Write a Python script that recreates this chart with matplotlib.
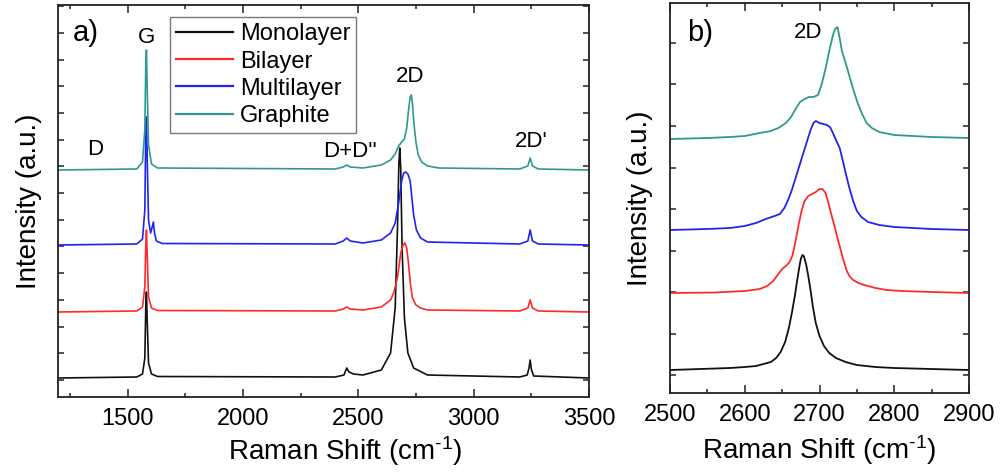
import numpy as np
import matplotlib
matplotlib.use("Agg")
import matplotlib.pyplot as plt
from matplotlib.ticker import MultipleLocator, FixedLocator

plt.rcParams['font.family'] = ['Liberation Sans', 'DejaVu Sans']
plt.rcParams['mathtext.fontset'] = 'custom'
plt.rcParams['mathtext.rm'] = 'Liberation Sans'
plt.rcParams['mathtext.it'] = 'Liberation Sans'

# ---------------- data ----------------
series_names = ["Monolayer", "Bilayer", "Multilayer", "Graphite"]
series_colors = ["#111111", "#ff2a2a", "#2323ee", "#2f9990"]

# Panel a) full spectra: intensity above each curve's baseline
a_mono_x = [1200, 1540, 1565, 1575, 1579, 1582, 1585, 1591, 1604, 1630, 2400, 2438, 2450, 2460, 2480,
            2520, 2600, 2640, 2660, 2670, 2676, 2680, 2684, 2690, 2700, 2715, 2740, 2800, 3200, 3232,
            3240, 3245, 3250, 3260, 3500]
a_mono_y = [0, 1, 4, 20, 70, 86, 60, 15, 4, 1.5, 1, 3, 10, 6, 4,
            3, 8, 25, 70, 150, 215, 230, 210, 130, 60, 25, 10, 3, 1, 3,
            10, 18, 9, 2, 0]

a_bi_x = [1200, 1540, 1565, 1575, 1579, 1582, 1585, 1591, 1604, 1630, 2400, 2435, 2450, 2465, 2520,
          2600, 2640, 2655, 2670, 2685, 2695, 2702, 2710, 2718, 2726, 2735, 2750, 2770, 2800, 3200,
          3235, 3245, 3255, 3280, 3500]
a_bi_y = [0, 1, 5, 25, 65, 82, 60, 15, 4, 1.5, 1, 3, 5, 3, 2,
          5, 12, 20, 35, 60, 67, 69, 64, 48, 28, 14, 7, 4, 2, 1,
          4, 12, 4, 1, 0]

a_multi_x = [1200, 1540, 1565, 1575, 1579, 1582, 1585, 1591, 1600, 1607, 1612, 1617, 1625, 1650, 2400,
             2435, 2450, 2465, 2520, 2600, 2640, 2660, 2675, 2688, 2697, 2705, 2715, 2725, 2732, 2740,
             2752, 2770, 2800, 3200, 3235, 3245, 3255, 3280, 3500]
a_multi_y = [0, 1, 6, 35, 110, 128, 90, 25, 12, 18, 23, 12, 4, 1.5, 1,
             4, 7, 4, 2, 5, 12, 22, 42, 64, 72, 73, 71, 64, 48, 30,
             15, 7, 3, 1, 4, 15, 4, 1, 0]

a_graph_x = [1200, 1540, 1565, 1575, 1579, 1582, 1585, 1591, 1604, 1630, 2400, 2435, 2450, 2465, 2520,
             2600, 2640, 2660, 2675, 2688, 2700, 2710, 2718, 2725, 2730, 2735, 2742, 2750, 2760, 2775,
             2800, 2850, 3200, 3235, 3245, 3255, 3280, 3500]
a_graph_y = [0, 1, 8, 40, 105, 120, 85, 25, 6, 2, 1, 3, 5, 3, 2,
             5, 10, 16, 24, 28, 31, 42, 60, 73, 75, 66, 45, 28, 15, 8,
             4, 2, 1, 4, 12, 4, 1, 0]

a_offsets = [19, 85, 152, 227]

# Panel b) 2D band zoom
b_mono_x = [2500, 2540, 2580, 2600, 2615, 2625, 2635, 2642, 2648, 2654, 2659, 2663, 2667, 2670, 2673,
            2675, 2677, 2679, 2682, 2685, 2688, 2691, 2695, 2700, 2706, 2713, 2722, 2735, 2750, 2775,
            2800, 2850, 2900]
b_mono_y = [0, 1, 2, 3, 4, 6, 8, 12, 18, 28, 42, 57, 74, 89, 103,
            111, 115, 114, 106, 94, 80, 64, 47, 34, 24, 17, 12, 8, 5, 3,
            2, 1, 0]

b_bi_x = [2500, 2560, 2600, 2620, 2630, 2638, 2645, 2650, 2655, 2660, 2664, 2668, 2672, 2676, 2680,
          2685, 2690, 2695, 2700, 2704, 2708, 2712, 2716, 2720, 2724, 2728, 2732, 2736, 2740, 2745,
          2752, 2760, 2775, 2790, 2810, 2850, 2900]
b_bi_y = [0, 0.5, 2, 4, 7, 12, 19, 24, 27, 31, 38, 52, 68, 82, 92,
          97, 99, 101, 104, 104, 100, 90, 78, 67, 55, 44, 33, 23, 17, 13,
          10, 8, 5, 3, 2, 1, 0]

b_multi_x = [2500, 2550, 2580, 2600, 2615, 2628, 2640, 2647, 2653, 2658, 2663, 2668, 2673, 2678, 2683,
             2688, 2692, 2695, 2700, 2705, 2710, 2714, 2718, 2722, 2727, 2731, 2735, 2740, 2745, 2750,
             2756, 2765, 2780, 2800, 2850, 2900]
b_multi_y = [0, 1, 2, 4, 7, 11, 14, 16, 22, 30, 40, 52, 64, 76, 88,
             100, 107, 109, 107, 106, 105, 103, 97, 90, 82, 70, 57, 42, 29, 19,
             13, 8, 5, 3, 1, 0]

b_graph_x = [2500, 2550, 2580, 2600, 2620, 2635, 2645, 2655, 2662, 2668, 2674, 2680, 2686, 2692, 2698,
             2703, 2708, 2713, 2718, 2721, 2724, 2727, 2730, 2735, 2740, 2745, 2751, 2757, 2763, 2770,
             2780, 2800, 2850, 2900]
b_graph_y = [0, 1, 2, 3, 6, 8, 11, 16, 22, 30, 37, 40, 42, 42, 44,
             55, 70, 88, 104, 110, 112, 101, 88, 76, 63, 50, 36, 25, 16, 11,
             7, 4, 2, 1]

b_offsets = [23, 100, 163, 254]

# ---------------- figure ----------------
fig = plt.figure(figsize=(10, 4.75), dpi=100)
axa = fig.add_axes([0.0583, 0.1642, 0.5307, 0.8253])
axb = fig.add_axes([0.670, 0.1726, 0.299, 0.8211])

a_sets = [(a_mono_x, a_mono_y), (a_bi_x, a_bi_y), (a_multi_x, a_multi_y), (a_graph_x, a_graph_y)]
b_sets = [(b_mono_x, b_mono_y), (b_bi_x, b_bi_y), (b_multi_x, b_multi_y), (b_graph_x, b_graph_y)]

for (x, y), off, c, n in zip(a_sets, a_offsets, series_colors, series_names):
    axa.plot(x, np.asarray(y) + off, color=c, lw=1.2, label=n)
for (x, y), off, c in zip(b_sets, b_offsets, series_colors):
    axb.plot(x, np.asarray(y) + off, color=c, lw=1.3)

xlabel_text = "Raman Shift (cm$^{\\text{-1}}$)"
spine_c = "#222222"
for ax in (axa, axb):
    for s in ax.spines.values():
        s.set_color(spine_c)
        s.set_linewidth(1.3)
    ax.tick_params(which='both', direction='in', top=True, right=True, color=spine_c,
                   labelsize=17, pad=8, width=1.1)
    ax.tick_params(which='major', length=6)
    ax.tick_params(which='minor', length=3)
    ax.tick_params(axis='y', which='both', labelleft=False, length=4)
    ax.set_ylabel("Intensity (a.u.)", fontsize=20, labelpad=12)
    ax.set_xlabel(xlabel_text, fontsize=20, labelpad=5)

axa.xaxis.set_label_coords(0.54, -0.095)

axa.set_xlim(1200, 3500)
axa.set_ylim(0, 392)
axa.xaxis.set_major_locator(MultipleLocator(500))
axa.xaxis.set_minor_locator(MultipleLocator(250))
axa.yaxis.set_major_locator(FixedLocator(np.arange(17, 392, 26.7)))

axb.set_xlim(2500, 2900)
axb.set_ylim(0, 390)
axb.xaxis.set_major_locator(MultipleLocator(100))
axb.xaxis.set_minor_locator(MultipleLocator(50))
axb.yaxis.set_major_locator(FixedLocator(np.arange(18, 390, 41.5)))

# annotations
axa.text(1320, 364, "a)", fontsize=21, ha='center', va='center')
axa.text(1581, 359, "G", fontsize=16, ha='center', va='center')
axa.text(1360, 247, "D", fontsize=16, ha='center', va='center')
axa.text(2464, 245, "D+D''", fontsize=16, ha='center', va='center')
axa.text(2724, 320, "2D", fontsize=16, ha='center', va='center')
axa.text(3251, 255, "2D'", fontsize=16, ha='center', va='center')

axb.text(2540, 360, "b)", fontsize=21, ha='center', va='center')
axb.text(2685, 360, "2D", fontsize=16, ha='center', va='center')

leg = axa.legend(loc='upper left', bbox_to_anchor=(0.211, 0.9682), fontsize=17,
                 frameon=True, fancybox=False, edgecolor='#777777', framealpha=1,
                 handlelength=2.4, handletextpad=0.3, labelspacing=0.22,
                 borderpad=0.25, borderaxespad=0)
leg.get_frame().set_linewidth(1.0)
for l in leg.get_lines():
    l.set_linewidth(1.6)

fig.savefig("out.png", dpi=100)
